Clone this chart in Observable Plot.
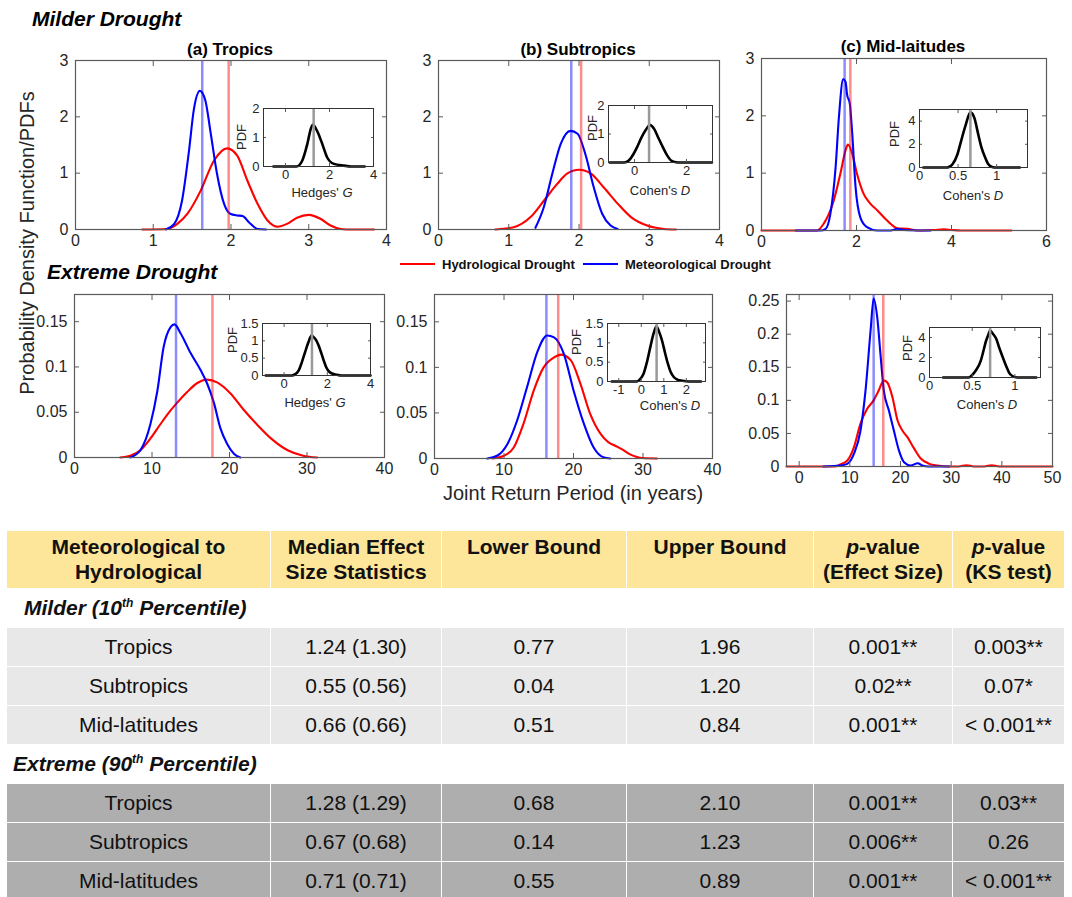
<!DOCTYPE html>
<html><head><meta charset="utf-8">
<script src="https://cdn.jsdelivr.net/npm/d3@7"></script>
<script src="https://cdn.jsdelivr.net/npm/@observablehq/plot@0.6"></script>
<style>
body{margin:0;background:#fff;}
#root{position:relative;width:1072px;height:897px;overflow:hidden;background:#fff;font-family:"Liberation Sans",Arial,Helvetica,sans-serif;}
#tbl{position:absolute;left:6px;top:530px;width:1058px;border-collapse:collapse;table-layout:fixed;font-size:21px;color:#111;}
#tbl td{border:1.5px solid #fff;padding:0;text-align:center;vertical-align:middle;white-space:nowrap;}
#tbl tr.hd td{background:#fde699;font-weight:bold;vertical-align:top;padding-top:3px;line-height:25px;height:54px;}
#tbl tr.sec td{background:#fff;text-align:left;font-weight:bold;font-style:italic;}
#tbl tr.lt td{background:#e8e8e8;}
#tbl tr.dk td{background:#aeaeae;}
#tbl sup{font-size:12px;line-height:0;}
</style></head><body><div id="root"></div>
<script>
// ---------------- data: main PDFs (joint return period) ----------------
const milderTropicsHyd = [[0.86,0],[1.18,0.01],[1.31,0.1],[1.44,0.28],[1.61,0.69],[1.78,1.22],[1.95,1.44],[2.08,1.31],[2.21,0.87],[2.34,0.46],[2.47,0.16],[2.60,0.05],[2.72,0.1],[2.85,0.21],[3.0,0.26],[3.15,0.19],[3.28,0.07],[3.41,0.01],[3.55,0],[3.84,0]];
const milderTropicsMet = [[1.16,0],[1.27,0.1],[1.37,0.51],[1.46,1.40],[1.52,2.11],[1.60,2.46],[1.67,2.29],[1.74,1.70],[1.82,0.99],[1.91,0.46],[1.99,0.28],[2.08,0.25],[2.15,0.24],[2.23,0.13],[2.34,0.01],[2.45,0]];
const milderSubtropicsHyd = [[0.81,0],[1.07,0.04],[1.31,0.22],[1.50,0.51],[1.69,0.81],[1.83,0.99],[2.0,1.06],[2.17,0.99],[2.35,0.75],[2.55,0.46],[2.74,0.22],[2.97,0.07],[3.21,0.01],[3.38,0]];
const milderSubtropicsMet = [[1.38,0.03],[1.50,0.40],[1.62,0.99],[1.74,1.52],[1.88,1.75],[1.98,1.70],[2.09,1.34],[2.21,0.75],[2.33,0.28],[2.45,0.07],[2.55,0.01]];
const milderMidlatHyd = [[0,0],[1.17,0],[1.31,0.12],[1.52,0.52],[1.66,0.99],[1.77,1.40],[1.82,1.50],[1.91,1.34],[2.01,0.99],[2.15,0.64],[2.29,0.47],[2.44,0.35],[2.65,0.17],[2.86,0.04],[3.07,0.03],[3.28,0],[3.63,0.01],[3.84,0.02],[4.01,0.01],[4.19,0],[5.26,0]];
const milderMidlatMet = [[0.72,0],[1.24,0],[1.35,0.03],[1.45,0.29],[1.56,1.10],[1.63,1.98],[1.72,2.64],[1.77,2.59],[1.80,2.38],[1.86,2.21],[1.91,1.69],[1.98,0.76],[2.08,0.23],[2.22,0.06],[2.44,0],[2.72,0],[2.86,0.03],[3.0,0.01],[3.56,0]];
const extremeTropicsHyd = [[5.9,0],[7.2,0.002],[8.5,0.008],[9.8,0.021],[11.1,0.037],[12.4,0.052],[13.2,0.06],[14.5,0.072],[15.8,0.082],[17.1,0.086],[18.4,0.083],[20.1,0.071],[21.8,0.053],[23.6,0.036],[25.5,0.02],[27.5,0.008],[29.5,0.002],[31.3,0]];
const extremeTropicsMet = [[7.2,0],[8.5,0.008],[9.8,0.037],[10.7,0.074],[11.5,0.122],[12.4,0.144],[12.9,0.147],[13.7,0.137],[15.0,0.115],[16.3,0.096],[17.1,0.082],[18.0,0.06],[18.8,0.033],[19.7,0.015],[20.6,0.004],[21.4,0]];
const extremeSubtropicsHyd = [[8.3,0],[10.0,0.003],[11.4,0.012],[12.8,0.038],[14.3,0.075],[15.7,0.10],[17.2,0.111],[18.2,0.114],[19.6,0.108],[21.0,0.082],[22.4,0.049],[23.9,0.027],[25.0,0.018],[26.0,0.014],[27.0,0.01],[28.0,0.005],[29.0,0.002],[30.0,0.0005],[32.0,0]];
const extremeSubtropicsMet = [[7.6,0],[9.0,0.003],[10.5,0.016],[11.9,0.042],[13.3,0.078],[14.8,0.117],[16.2,0.135],[17.2,0.133],[18.6,0.115],[20.0,0.075],[21.5,0.038],[22.9,0.012],[24.4,0.001],[25.3,0]];
const extremeMidlatHyd = [[-2.5,0],[7.0,0],[8.1,0.003],[9.5,0.009],[10.8,0.029],[12.1,0.065],[13.4,0.087],[14.7,0.10],[15.7,0.115],[16.7,0.13],[17.4,0.127],[18.4,0.105],[19.4,0.07],[20.4,0.054],[21.4,0.044],[22.7,0.027],[24.0,0.012],[25.7,0.004],[27.3,0.0015],[29.5,0],[31.5,0],[33,0.002],[34.5,0],[36.5,0],[38,0.002],[39.5,0],[50,0]];
const extremeMidlatMet = [[4.8,0],[8.1,0.0015],[9.5,0.004],[10.8,0.019],[12.1,0.054],[13.1,0.115],[14.1,0.206],[14.7,0.254],[15.4,0.226],[16.1,0.165],[16.7,0.115],[17.7,0.085],[18.7,0.054],[19.7,0.024],[20.7,0.0065],[22.0,0.0015],[23.4,0.005],[24.3,0.0015],[25.5,0],[29.6,0]];
// median markers (hydrological, meteorological)
const hydMedians = [1.97, 2.03, 1.87, 17.8, 17.8, 16.6];
const metMedians = [1.63, 1.89, 1.75, 13.1, 16.1, 14.7];
// ---------------- data: effect-size PDFs (insets) ----------------
const effMilderTropics = [[-0.55,0],[0.5,0],[0.76,0.2],[0.99,0.77],[1.15,1.3],[1.25,1.45],[1.35,1.35],[1.5,1.12],[1.67,0.78],[1.89,0.32],[2.2,0.09],[2.65,0.03],[3.0,0],[3.6,0]];
const effMilderSubtropics = [[-0.95,0],[-0.4,0],[-0.22,0.07],[-0.05,0.28],[0.1,0.54],[0.27,0.88],[0.43,1.14],[0.6,1.31],[0.76,1.17],[0.92,0.86],[1.09,0.54],[1.25,0.26],[1.41,0.07],[1.6,0.01],[1.75,0],[2.98,0]];
const effMilderMidlat = [[0.05,0],[0.36,0],[0.43,0.3],[0.49,1.1],[0.54,2.3],[0.6,3.7],[0.66,4.75],[0.71,4.3],[0.76,2.9],[0.8,1.8],[0.85,0.88],[0.89,0.3],[0.94,0.05],[1.0,0],[1.3,0]];
const effExtremeTropics = [[-0.85,0],[0.36,0],[0.52,0.04],[0.67,0.14],[0.82,0.38],[0.97,0.67],[1.12,0.95],[1.27,1.15],[1.38,1.1],[1.5,1.0],[1.62,0.83],[1.73,0.63],[1.84,0.42],[1.95,0.24],[2.1,0.1],[2.26,0.05],[2.45,0.02],[2.64,0],[4,0]];
const effExtremeSubtropics = [[-1.31,0],[-0.2,0],[-0.05,0.06],[0.1,0.2],[0.25,0.5],[0.4,0.89],[0.55,1.25],[0.67,1.42],[0.8,1.27],[0.92,1.06],[1.05,0.75],[1.18,0.46],[1.3,0.25],[1.45,0.11],[1.6,0.05],[1.82,0.02],[2.1,0],[2.65,0]];
const effExtremeMidlat = [[0.16,0],[0.46,0],[0.5,0.25],[0.54,0.68],[0.6,1.66],[0.63,2.6],[0.66,3.6],[0.69,4.3],[0.71,4.7],[0.74,4.4],[0.78,3.9],[0.82,2.9],[0.86,1.98],[0.9,1.1],[0.93,0.52],[0.97,0.15],[1.03,0],[1.25,0]];
const effMedians = [1.28, 0.56, 0.66, 1.29, 0.68, 0.71];
const effLabels = ["Hedges'|G","Cohen's|D","Cohen's|D","Hedges'|G","Cohen's|D","Cohen's|D"];
// tick labels
const xTicksMilder = [[0,1,2,3,4],[0,1,2,3,4],[0,2,4,6]];
const xTicksExtreme = [[0,10,20,30,40],[0,10,20,30,40],[0,10,20,30,40,50]];
const yTicksMilder = [0,1,2,3];
const yTicksExtreme = [[0,0.05,0.1,0.15],[0,0.05,0.1,0.15],[0,0.05,0.1,0.15,0.2,0.25]];
const insetXTicks = [[0,2,4],[0,2],[0,0.5,1],[0,2,4],[-1,0,1,2],[0,0.5,1]];
const insetYTicks = [[0,1,2],[0,1,2],[0,2,4],[0,0.5,1,1.5],[0,0.5,1,1.5],[0,2,4]];
const panelTitles = ["(a) Tropics","(b) Subtropics","(c) Mid-laitudes"];
// ---------------- data: table ----------------
const regions = ["Tropics","Subtropics","Mid-latitudes"];
const milderEffect = ["1.24 (1.30)","0.55 (0.56)","0.66 (0.66)"];
const milderLower = ["0.77","0.04","0.51"];
const milderUpper = ["1.96","1.20","0.84"];
const milderPEffect = ["0.001**","0.02**","0.001**"];
const milderPKS = ["0.003**","0.07*","< 0.001**"];
const extremeEffect = ["1.28 (1.29)","0.67 (0.68)","0.71 (0.71)"];
const extremeLower = ["0.68","0.14","0.55"];
const extremeUpper = ["2.10","1.23","0.89"];
const extremePEffect = ["0.001**","0.006**","0.001**"];
const extremePKS = ["0.03**","0.26","< 0.001**"];

// ---------------- drawing ----------------
const FONT = '"Liberation Sans", Arial, Helvetica, sans-serif';
const root = document.getElementById("root");
const RED = "#ff0000", BLUE = "#0000ff", AX = "#5a5a5a", TXT = "#262626";
const fmt = d => String(d);
const px = d => d[0], py = d => d[1];

const mainDefs = [
  {hyd: milderTropicsHyd, met: milderTropicsMet, xd:[0,4], yd:[0,3], xt:xTicksMilder[0], yt:yTicksMilder, fr:[75,60,386,229]},
  {hyd: milderSubtropicsHyd, met: milderSubtropicsMet, xd:[0,4], yd:[0,3], xt:xTicksMilder[1], yt:yTicksMilder, fr:[438,60,719,229]},
  {hyd: milderMidlatHyd, met: milderMidlatMet, xd:[0,6], yd:[0,3], xt:xTicksMilder[2], yt:yTicksMilder, fr:[761,58,1046,230]},
  {hyd: extremeTropicsHyd, met: extremeTropicsMet, xd:[0,40], yd:[0,0.18], xt:xTicksExtreme[0], yt:yTicksExtreme[0], fr:[74,294,384,457]},
  {hyd: extremeSubtropicsHyd, met: extremeSubtropicsMet, xd:[0,40], yd:[0,0.18], xt:xTicksExtreme[1], yt:yTicksExtreme[1], fr:[434,294,712,458]},
  {hyd: extremeMidlatHyd, met: extremeMidlatMet, xd:[-2.5,50], yd:[0,0.26], xt:xTicksExtreme[2], yt:yTicksExtreme[2], fr:[786,294,1052,466]}
];
const insetDefs = [
  {c: effMilderTropics, xd:[-1,4], yd:[0,2], fr:[263,108,373,166]},
  {c: effMilderSubtropics, xd:[-1,3], yd:[0,2], fr:[608,105,712,162]},
  {c: effMilderMidlat, xd:[0,1.4], yd:[0,5], fr:[919,109,1027,167]},
  {c: effExtremeTropics, xd:[-1,4], yd:[0,1.5], fr:[262,323,370,375]},
  {c: effExtremeSubtropics, xd:[-1.5,2.85], yd:[0,1.5], fr:[607,323,705,381]},
  {c: effExtremeMidlat, xd:[0,1.3], yd:[0,5], fr:[929,327,1040,377]}
];

function place(svg, left, top) {
  svg.style.position = "absolute";
  svg.style.left = left + "px";
  svg.style.top = top + "px";
  svg.style.maxWidth = "none";
  root.appendChild(svg);
}

function boxAxes(xt, yt, tick, padX, padY) {
  return [
    Plot.axisX({ticks: xt, tickSize: 0, tickPadding: padX, tickFormat: fmt, label: null}),
    Plot.axisX({ticks: xt, tickSize: -tick, tickFormat: () => "", label: null, stroke: AX}),
    Plot.axisX({anchor: "top", ticks: xt, tickSize: -tick, tickFormat: () => "", label: null, stroke: AX}),
    Plot.axisY({ticks: yt, tickSize: 0, tickPadding: padY, tickFormat: fmt, label: null}),
    Plot.axisY({ticks: yt, tickSize: -tick, tickFormat: () => "", label: null, stroke: AX}),
    Plot.axisY({anchor: "right", ticks: yt, tickSize: -tick, tickFormat: () => "", label: null, stroke: AX})
  ];
}

const ML = 55, MR = 12, MT = 8, MB = 30;
mainDefs.forEach((p, i) => {
  const [l, t, r, b] = p.fr;
  const svg = Plot.plot({
    width: r - l + ML + MR, height: b - t + MT + MB,
    marginLeft: ML, marginRight: MR, marginTop: MT, marginBottom: MB,
    style: {fontFamily: FONT, fontSize: "16px", color: TXT, background: "transparent", overflow: "visible"},
    x: {domain: p.xd}, y: {domain: p.yd},
    marks: [
      Plot.line(p.hyd, {x: px, y: py, stroke: RED, strokeWidth: 2.1, curve: "monotone-x"}),
      Plot.line(p.met, {x: px, y: py, stroke: BLUE, strokeWidth: 2.1, curve: "monotone-x"}),
      Plot.ruleX([metMedians[i]], {stroke: BLUE, strokeOpacity: 0.45, strokeWidth: 2.5}),
      Plot.ruleX([hydMedians[i]], {stroke: RED, strokeOpacity: 0.45, strokeWidth: 2.5}),
      ...boxAxes(p.xt, p.yt, 5, 5, 7),
      Plot.frame({stroke: AX, strokeWidth: 1.2})
    ]
  });
  place(svg, l - ML, t - MT);
});

const IML = 30, IMR = 8, IMT = 6, IMB = 22;
insetDefs.forEach((p, i) => {
  const [l, t, r, b] = p.fr;
  const svg = Plot.plot({
    width: r - l + IML + IMR, height: b - t + IMT + IMB,
    marginLeft: IML, marginRight: IMR, marginTop: IMT, marginBottom: IMB,
    style: {fontFamily: FONT, fontSize: "13px", color: TXT, background: "transparent", overflow: "visible"},
    x: {domain: p.xd}, y: {domain: p.yd},
    marks: [
      Plot.frame({fill: "#fff", stroke: "none"}),
      Plot.line(p.c, {x: px, y: py, stroke: "#000", strokeWidth: 2.6, curve: "monotone-x"}),
      Plot.ruleX([effMedians[i]], {stroke: "#999", strokeWidth: 2.5}),
      ...boxAxes(insetXTicks[i], insetYTicks[i], 3, 3, 4),
      Plot.frame({stroke: "#333", strokeWidth: 1})
    ]
  });
  place(svg, l - IML, t - IMT);
});

// text overlay
const NS = "http://www.w3.org/2000/svg";
const ov = document.createElementNS(NS, "svg");
ov.setAttribute("width", 1072); ov.setAttribute("height", 520);
ov.style.cssText = "position:absolute;left:0;top:0;overflow:visible;font-family:" + FONT.replace(/"/g, "'") + ";";
root.appendChild(ov);
function txt(s, x, y, o = {}) {
  const e = document.createElementNS(NS, "text");
  e.setAttribute("x", x); e.setAttribute("y", y);
  e.setAttribute("font-size", o.size || 16);
  e.setAttribute("fill", o.fill || TXT);
  if (o.weight) e.setAttribute("font-weight", o.weight);
  if (o.style) e.setAttribute("font-style", o.style);
  e.setAttribute("text-anchor", o.anchor || "start");
  if (o.rotate) { e.setAttribute("transform", `rotate(-90 ${x} ${y})`); e.setAttribute("dy", "0.35em"); }
  const parts = s.split("|");
  parts.forEach((t, k) => {
    const sp = document.createElementNS(NS, "tspan");
    sp.textContent = (k > 0 ? " " : "") + t;
    if (k > 0) sp.setAttribute("font-style", "italic");
    e.appendChild(sp);
  });
  ov.appendChild(e);
  return e;
}
function seg(x1, x2, y, c) {
  const e = document.createElementNS(NS, "line");
  e.setAttribute("x1", x1); e.setAttribute("x2", x2); e.setAttribute("y1", y); e.setAttribute("y2", y);
  e.setAttribute("stroke", c); e.setAttribute("stroke-width", 2);
  ov.appendChild(e);
}
txt("Milder Drought", 32, 26, {size: 21, weight: "bold", style: "italic", fill: "#000"});
txt("Extreme Drought", 47, 279, {size: 21, weight: "bold", style: "italic", fill: "#000"});
const titleX = [230, 578, 903], titleY = [55, 55, 52];
panelTitles.forEach((s, i) => txt(s, titleX[i], titleY[i], {size: 17, weight: "bold", anchor: "middle", fill: "#000"}));
txt("Probability Density Function/PDFs", 27, 243, {size: 20, anchor: "middle", rotate: true});
txt("Joint Return Period (in years)", 573, 500, {size: 20, anchor: "middle"});
seg(400, 435, 264, RED); txt("Hydrological Drought", 442, 268.5, {size: 13, weight: "bold", fill: "#111"});
seg(583, 618, 264, BLUE); txt("Meteorological Drought", 625, 268.5, {size: 13, weight: "bold", fill: "#111"});
const pdfPos = [[241,137],[592,128],[894,134],[232,340],[576,342],[907,348]];
const effLabPos = [[322,197],[660,195],[973,200],[315,407],[670,410],[987,409]];
pdfPos.forEach(([x, y]) => txt("PDF", x, y, {size: 13, anchor: "middle", rotate: true}));
effLabPos.forEach(([x, y], i) => txt(effLabels[i], x, y, {size: 13, anchor: "middle"}));

// table
const tbl = document.createElement("table");
tbl.id = "tbl";
const colW = [264, 171, 185, 187, 139, 112];
const cg = document.createElement("colgroup");
colW.forEach(w => { const c = document.createElement("col"); c.style.width = w + "px"; cg.appendChild(c); });
tbl.appendChild(cg);
function row(cls, cells, h) {
  const tr = document.createElement("tr");
  tr.className = cls;
  cells.forEach(c => { const td = document.createElement("td"); td.innerHTML = c; if (h) td.style.height = h + "px"; tr.appendChild(td); });
  tbl.appendChild(tr);
  return tr;
}
row("hd", ["Meteorological to<br>Hydrological", "Median Effect<br>Size Statistics", "Lower Bound", "Upper Bound", "<i>p</i>-value<br>(Effect Size)", "<i>p</i>-value<br>(KS test)"]);
function secRow(html, h, pad) {
  const tr = document.createElement("tr"); tr.className = "sec";
  const td = document.createElement("td"); td.colSpan = 6; td.innerHTML = html;
  td.style.height = h + "px"; td.style.paddingLeft = pad + "px";
  tr.appendChild(td); tbl.appendChild(tr);
}
secRow("Milder (10<sup>th</sup> Percentile)", 38, 17);
regions.forEach((r, i) => row("lt", [r, milderEffect[i], milderLower[i], milderUpper[i], milderPEffect[i], milderPKS[i]], 38));
secRow("Extreme (90<sup>th</sup> Percentile)", 38, 6);
regions.forEach((r, i) => row("dk", [r, extremeEffect[i], extremeLower[i], extremeUpper[i], extremePEffect[i], extremePKS[i]], 38));
root.appendChild(tbl);
</script></body></html>
